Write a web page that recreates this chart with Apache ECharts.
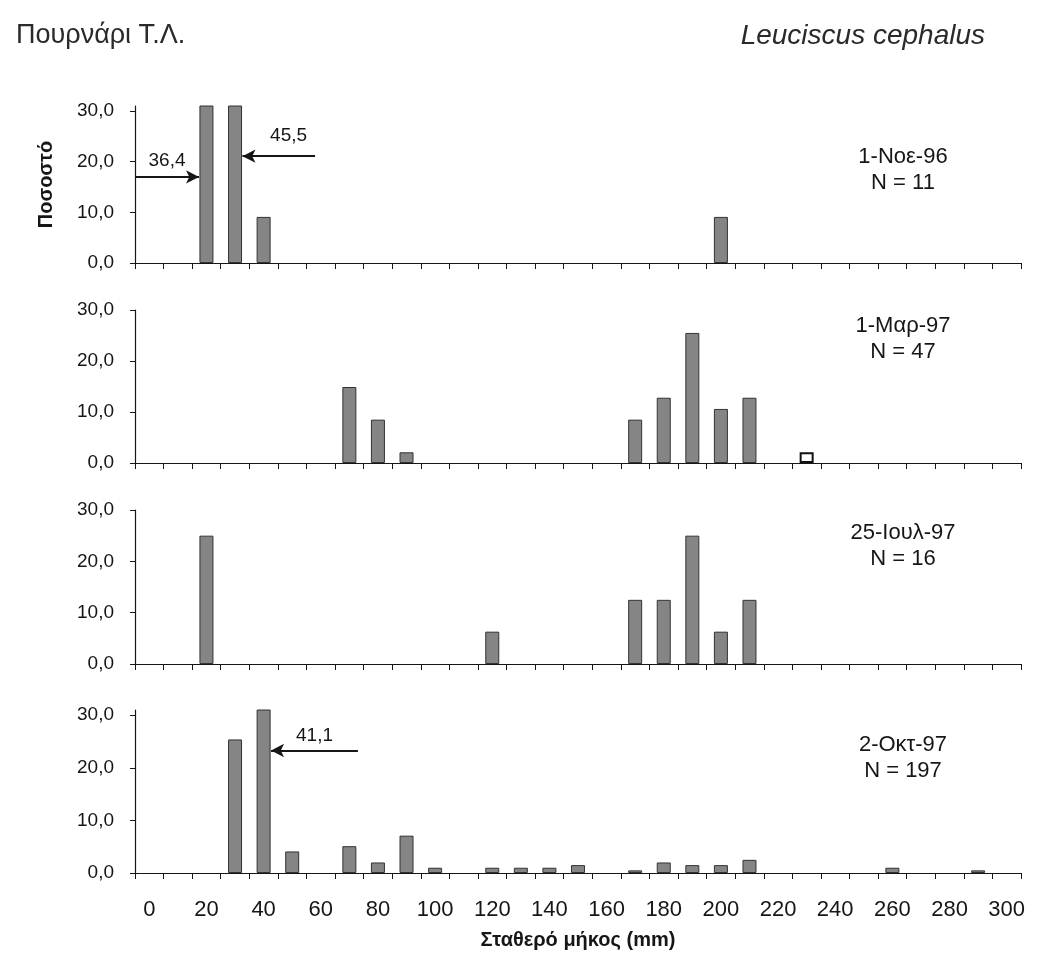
<!DOCTYPE html>
<html>
<head>
<meta charset="utf-8">
<title>Leuciscus cephalus – Πουρνάρι Τ.Λ.</title>
<script src="https://cdn.jsdelivr.net/npm/echarts@6/dist/echarts.min.js"></script>
<style>
  html, body { margin: 0; padding: 0; background: #ffffff; }
  #chart { width: 1040px; height: 956px; }
</style>
</head>
<body>
<div id="chart"></div>
<script>
// Length-frequency distributions (standard length, mm) per sampling date, in %
const lengthsNov = [20, 30, 40, 200];
const percentNov = [36.4, 45.5, 9.1, 9.1];

const lengthsMar = [70, 80, 90, 170, 180, 190, 200, 210, 230];
const percentMar = [14.9, 8.5, 2.1, 8.5, 12.8, 25.5, 10.6, 12.8, 2.1];

const lengthsJul = [20, 120, 170, 180, 190, 200, 210];
const percentJul = [25.0, 6.3, 12.5, 12.5, 25.0, 6.3, 12.5];

const lengthsOct = [30, 40, 50, 70, 80, 90, 100, 120, 130, 140, 150, 170, 180, 190, 200, 210, 260, 290];
const percentOct = [25.4, 41.1, 4.1, 5.1, 2.0, 7.1, 1.0, 1.0, 1.0, 1.0, 1.5, 0.5, 2.0, 1.5, 1.5, 2.5, 1.0, 0.5];

const sampleDates = ['1-Νοε-96', '1-Μαρ-97', '25-Ιουλ-97', '2-Οκτ-97'];
const sampleSizes = [11, 47, 16, 197];

const xTickLabels = [0, 20, 40, 60, 80, 100, 120, 140, 160, 180, 200, 220, 240, 260, 280, 300];
const yTickLabels = [0, 10, 20, 30];

const FONT = '"Liberation Sans", Arial, sans-serif';
const INK = '#161616';
const fmt = v => v.toFixed(1).replace('.', ',');

// class boundaries (10 mm classes centred on the labelled lengths)
const xBoundaries = [];
for (let b = -5; b <= 305; b += 10) xBoundaries.push(b);

const panels = [
  { lengths: lengthsNov, values: percentNov, top: 106, height: 157, yMax: 31, textY: 152 },
  { lengths: lengthsMar, values: percentMar, top: 310, height: 153, yMax: 30, textY: 321 },
  { lengths: lengthsJul, values: percentJul, top: 510, height: 154, yMax: 30, textY: 528 },
  { lengths: lengthsOct, values: percentOct, top: 710, height: 163, yMax: 31, textY: 740 }
];
// open (unfilled) class in the March sample
panels[1].hollow = [230];

// mean-length style arrows pointing at the dominant classes
const arrowStyle = { color: INK, width: 2, type: 'solid' };
function arrowLabel(text, position, distance) {
  return { show: true, formatter: text, position: position, distance: distance,
           fontFamily: FONT, fontSize: 19, color: INK };
}
const arrows = {
  0: [
    [ { coord: [-5, 17], symbol: 'none', label: arrowLabel(fmt(percentNov[0]), 'insideMiddleTop', [0, 7]) },
      { coord: [17.4, 17], symbol: 'arrow' } ],
    [ { coord: [32.6, 21.1], symbol: 'arrow', label: arrowLabel(fmt(percentNov[1]), 'insideEndTop', [8, 11]) },
      { coord: [58, 21.1], symbol: 'none' } ]
  ],
  3: [
    [ { coord: [42.6, 23.3], symbol: 'arrow', label: arrowLabel(fmt(percentOct[1]), 'insideMiddleTop', [0, 5]) },
      { coord: [73, 23.3], symbol: 'none' } ]
  ]
};

const grid = [], xAxis = [], yAxis = [], series = [], title = [];

title.push({
  text: 'Πουρνάρι Τ.Λ.', left: 11, top: 17,
  textStyle: { fontFamily: FONT, fontSize: 27, fontWeight: 'normal', color: '#2a2a2a' }
});
title.push({
  text: 'Leuciscus cephalus', right: 50, top: 17,
  textStyle: { fontFamily: FONT, fontSize: 28, fontWeight: 'normal', fontStyle: 'italic', color: '#2a2a2a' }
});

panels.forEach((p, i) => {
  const last = i === panels.length - 1;
  grid.push({ left: 135, width: 886, top: p.top, height: p.height,
              containLabel: false, outerBoundsMode: 'none' });

  xAxis.push({
    type: 'value', gridIndex: i, min: -5, max: 305,
    axisLine: { show: true, onZero: false, lineStyle: { color: INK, width: 1.2 } },
    axisTick: { show: true, length: 6, inside: false, customValues: xBoundaries,
                lineStyle: { color: INK, width: 1 } },
    axisLabel: { show: last, customValues: xTickLabels, margin: 26,
                 fontFamily: FONT, fontSize: 22, color: INK },
    splitLine: { show: false },
    name: last ? 'Σταθερό μήκος (mm)' : '',
    nameLocation: 'middle', nameGap: 57,
    nameTextStyle: { fontFamily: FONT, fontSize: 20, fontWeight: 'bold', color: INK }
  });

  yAxis.push({
    type: 'value', gridIndex: i, min: 0, max: p.yMax,
    axisLine: { show: true, onZero: false, lineStyle: { color: INK, width: 1.2 } },
    axisTick: { show: true, length: 5, customValues: yTickLabels, lineStyle: { color: INK } },
    axisLabel: { show: true, customValues: yTickLabels, margin: 21,
                 formatter: v => fmt(v), fontFamily: FONT, fontSize: 19, color: INK },
    splitLine: { show: false },
    name: i === 0 ? 'Ποσοστό' : '',
    nameLocation: 'middle', nameGap: 79,
    nameTextStyle: { fontFamily: FONT, fontSize: 20, fontWeight: 'bold', color: INK }
  });

  const hollow = p.hollow || [];
  series.push({
    type: 'bar', xAxisIndex: i, yAxisIndex: i, barWidth: 14, clip: true,
    animation: false,
    itemStyle: { color: '#858585', borderColor: '#333333', borderWidth: 1 },
    data: p.lengths.map((len, k) => {
      const item = { value: [len, p.values[k]] };
      if (hollow.indexOf(len) >= 0) {
        item.itemStyle = { color: '#ffffff', borderColor: '#111111', borderWidth: 2 };
      }
      return item;
    }),
    markLine: arrows[i] ? {
      silent: true, animation: false, symbolSize: [10, 13],
      lineStyle: arrowStyle, data: arrows[i]
    } : undefined
  });

  title.push({
    text: sampleDates[i] + '\nN = ' + sampleSizes[i],
    left: 898, top: p.textY - 13, textAlign: 'center',
    textStyle: { fontFamily: FONT, fontSize: 22, fontWeight: 'normal', color: INK, lineHeight: 26, align: 'center' }
  });
});

const chart = echarts.init(document.getElementById('chart'), null, { renderer: 'canvas' });
chart.setOption({
  backgroundColor: '#ffffff',
  animation: false,
  title: title,
  grid: grid,
  xAxis: xAxis,
  yAxis: yAxis,
  series: series
});
</script>
</body>
</html>
